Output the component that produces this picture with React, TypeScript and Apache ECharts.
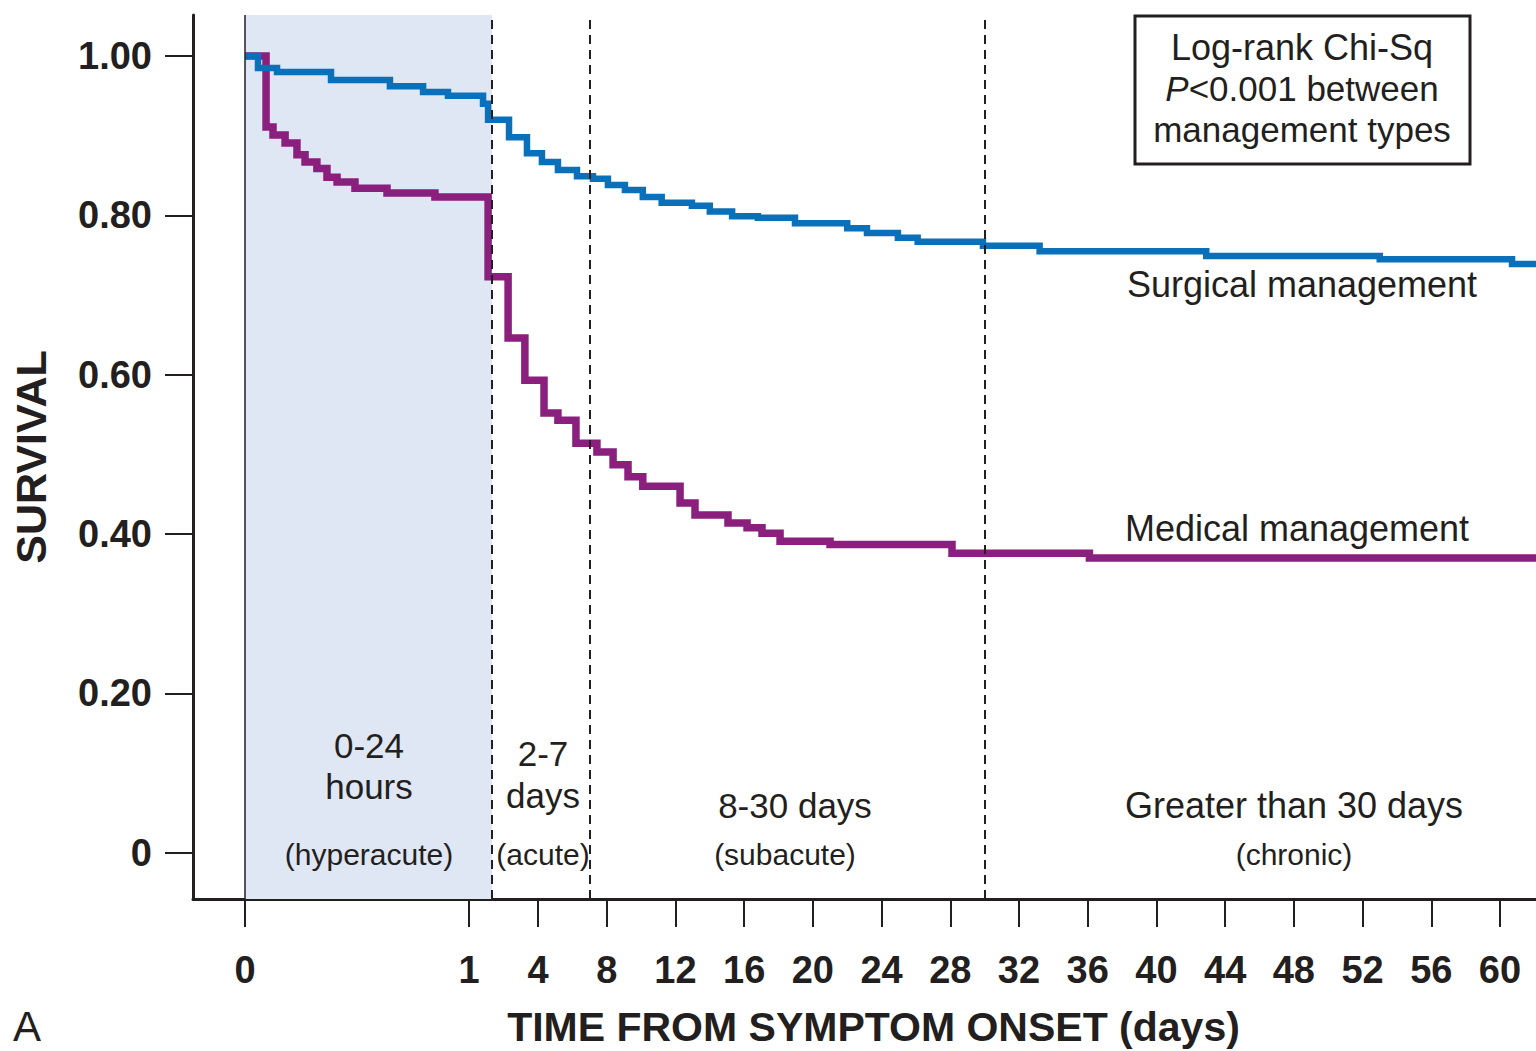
import React, { useEffect, useRef } from "react";
import * as echarts from "echarts";

// ---------- data ----------
const xTickDays = [0, 1, 4, 8, 12, 16, 20, 24, 28, 32, 36, 40, 44, 48, 52, 56, 60];
const yTicks = [0, 0.2, 0.4, 0.6, 0.8, 1.0];
const yTickLabels = ["0", "0.20", "0.40", "0.60", "0.80", "1.00"];
const phaseBoundaryDays = [2, 7, 30];

const surgicalDays = [0, 0.058, 0.143, 0.384, 0.647, 0.795, 0.906, 1.61, 1.83, 2.74, 3.52, 4.23, 5.16, 6.27, 7.2, 8.07, 9.06, 10.1, 11.2, 12.96, 14.0, 15.3, 16.8, 18.96, 22.0, 23.15, 24.95, 26.1, 29.9, 33.2, 42.9, 53.0, 60.7, 62.1];
const surgicalSurvival = [1.0, 0.985, 0.98, 0.97, 0.962, 0.955, 0.95, 0.94, 0.92, 0.898, 0.878, 0.867, 0.857, 0.849, 0.846, 0.838, 0.832, 0.823, 0.816, 0.812, 0.805, 0.799, 0.797, 0.79, 0.784, 0.778, 0.772, 0.767, 0.762, 0.755, 0.749, 0.745, 0.739, 0.739];

const medicalDays = [0, 0.094, 0.125, 0.179, 0.232, 0.268, 0.321, 0.366, 0.411, 0.491, 0.634, 0.848, 1.83, 2.7, 3.43, 4.35, 5.16, 6.21, 7.43, 8.37, 9.24, 10.1, 12.27, 13.14, 15.06, 16.17, 17.04, 18.09, 21.0, 28.1, 36.1, 62.1];
const medicalSurvival = [1.0, 0.911, 0.901, 0.891, 0.876, 0.867, 0.859, 0.848, 0.842, 0.834, 0.828, 0.823, 0.723, 0.646, 0.593, 0.552, 0.543, 0.514, 0.503, 0.487, 0.472, 0.46, 0.439, 0.424, 0.414, 0.408, 0.401, 0.391, 0.387, 0.376, 0.37, 0.37];

// ---------- broken time scale (day -> axis unit) ----------
const scaleBreaks: [number, number][] = [
  [0, 0],
  [1, 224],
  [4, 293],
  [60, 1255],
];
function pos(d: number): number {
  for (let i = 1; i < scaleBreaks.length; i++) {
    const [d0, p0] = scaleBreaks[i - 1];
    const [d1, p1] = scaleBreaks[i];
    if (d <= d1 || i === scaleBreaks.length - 1) {
      return p0 + ((d - d0) * (p1 - p0)) / (d1 - d0);
    }
  }
  return 0;
}

const FONT = '"Liberation Sans", Arial, Helvetica, sans-serif';
const INK = "#231f20";
const BLUE = "#0a70ba";
const PURPLE = "#8a1f7e";
const SHADE = "#dfe6f4";

export default function App() {
  const ref = useRef<HTMLDivElement>(null);
  useEffect(() => {
    if (!ref.current) return;
    const chart = echarts.init(ref.current, null, { renderer: "svg" });
    const xTickPos = xTickDays.map(pos);
    const txt = (text: string, x: number, y: number, size: number, extra: any = {}) => ({
      type: "text",
      x,
      y,
      z: 100,
      silent: true,
      style: {
        text,
        fill: INK,
        font: `${size}px ${FONT}`,
        align: "center",
        verticalAlign: "middle",
        textAlign: "center",
        textVerticalAlign: "middle",
        ...extra,
      },
    });
    chart.setOption({
      animation: false,
      backgroundColor: "#ffffff",
      grid: { left: 193, right: 0, top: 15, bottom: 152, containLabel: false, outerBoundsMode: "none" },
      xAxis: {
        type: "value",
        min: -52,
        max: 1291,
        splitLine: { show: false },
        axisLine: { show: true, onZero: false, lineStyle: { color: INK, width: 3 } },
        axisTick: { show: true, customValues: xTickPos, length: 28, lineStyle: { color: INK, width: 2 } },
        axisLabel: {
          customValues: xTickPos,
          formatter: (v: number) => {
            const i = xTickPos.findIndex((p) => Math.abs(p - v) < 0.5);
            return i >= 0 ? String(xTickDays[i]) : "";
          },
          margin: 52,
          fontSize: 38,
          fontWeight: "bold",
          color: INK,
          fontFamily: FONT,
        },
        name: "TIME FROM SYMPTOM ONSET (days)",
        nameLocation: "middle",
        nameGap: 107,
        nameTextStyle: { fontSize: 41, fontWeight: "bold", color: INK, fontFamily: FONT, padding: [0, 0, 0, 18] },
      },
      yAxis: {
        type: "value",
        min: -0.058,
        max: 1.0515,
        splitLine: { show: false },
        axisLine: { show: true, onZero: false, lineStyle: { color: INK, width: 3 } },
        axisTick: { show: true, customValues: yTicks, length: 28, lineStyle: { color: INK, width: 2 } },
        axisLabel: {
          customValues: yTicks,
          formatter: (v: number) => {
            const i = yTicks.findIndex((p) => Math.abs(p - v) < 0.001);
            return i >= 0 ? yTickLabels[i] : "";
          },
          margin: 41,
          fontSize: 38,
          fontWeight: "bold",
          color: INK,
          fontFamily: FONT,
        },
        name: "SURVIVAL",
        nameLocation: "middle",
        nameRotate: 90,
        nameGap: 141,
        nameTextStyle: { fontSize: 43, fontWeight: "bold", color: INK, fontFamily: FONT },
      },
      series: [
        {
          type: "line",
          data: [],
          z: 1,
          silent: true,
          markArea: {
            silent: true,
            itemStyle: { color: SHADE },
            data: [[{ xAxis: pos(0) }, { xAxis: pos(phaseBoundaryDays[0]) }]],
          },
          markLine: {
            silent: true,
            symbol: ["none", "none"],
            label: { show: false },
            lineStyle: { color: INK, width: 2, type: [9, 6] },
            data: [
              { xAxis: pos(0), lineStyle: { type: "solid", width: 1.5, color: INK } },
              ...phaseBoundaryDays.map((d) => ({ xAxis: pos(d) })),
            ],
          },
        },
        {
          name: "Medical management",
          type: "line",
          step: "end",
          showSymbol: false,
          silent: true,
          z: 3,
          lineStyle: { color: PURPLE, width: 7.5, cap: "butt", join: "miter" },
          data: medicalDays.map((d, i) => [pos(d), medicalSurvival[i]]),
        },
        {
          name: "Surgical management",
          type: "line",
          step: "end",
          showSymbol: false,
          silent: true,
          z: 4,
          lineStyle: { color: BLUE, width: 6.5, cap: "butt", join: "miter" },
          data: surgicalDays.map((d, i) => [pos(d), surgicalSurvival[i]]),
        },
      ],
      graphic: [
        {
          type: "rect",
          z: 99,
          silent: true,
          shape: { x: 1135, y: 16, width: 335, height: 148 },
          style: { fill: "#ffffff", stroke: INK, lineWidth: 3 },
        },
        txt("Log-rank Chi-Sq", 1302, 47, 36),
        {
          type: "text",
          x: 1302,
          y: 88,
          z: 100,
          silent: true,
          style: {
            text: "{i|P}{n|<0.001 between}",
            align: "center",
            verticalAlign: "middle",
            textAlign: "center",
            textVerticalAlign: "middle",
            rich: {
              i: { fontStyle: "italic", fontSize: 35, fontFamily: FONT, fill: INK, color: INK },
              n: { fontSize: 35, fontFamily: FONT, fill: INK, color: INK },
            },
          },
        },
        txt("management types", 1302, 129, 35),
        txt("Surgical management", 1302, 284, 36),
        txt("Medical management", 1297, 528, 36),
        txt("0-24", 369, 745, 35),
        txt("hours", 369, 786, 35),
        txt("(hyperacute)", 369, 854, 30),
        txt("2-7", 543, 753, 35),
        txt("days", 543, 795, 35),
        txt("(acute)", 543, 854, 30),
        txt("8-30 days", 795, 805, 35),
        txt("(subacute)", 785, 854, 30),
        txt("Greater than 30 days", 1294, 805, 36),
        txt("(chronic)", 1294, 854, 30),
        txt("A", 27, 1026, 42),
      ],
    });
    return () => chart.dispose();
  }, []);
  return (
    <div
      ref={ref}
      style={{ position: "absolute", left: 0, top: 0, width: 1536, height: 1051, background: "#fff" }}
    />
  );
}
